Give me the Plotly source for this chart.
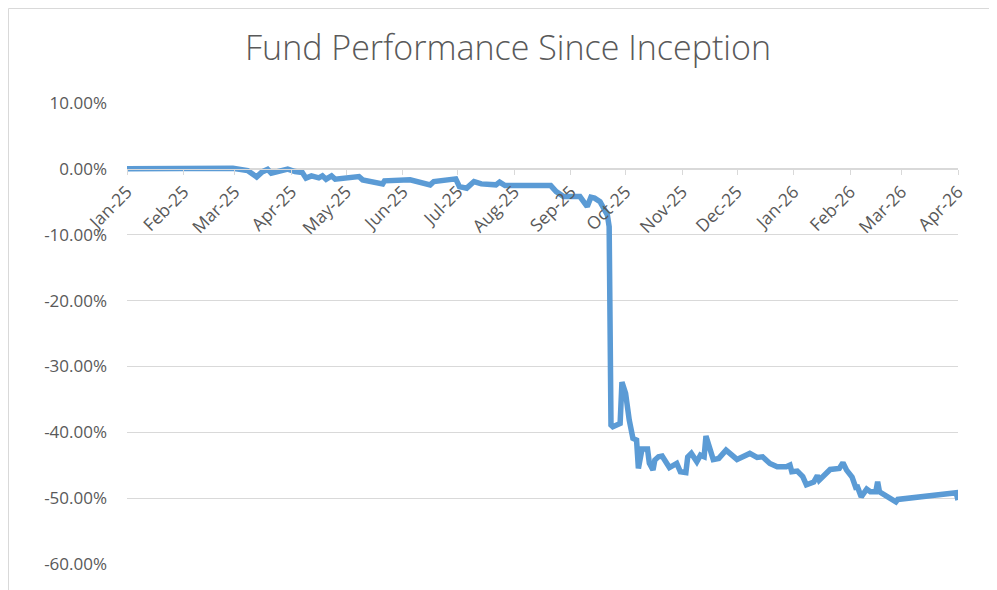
import plotly.graph_objects as go

dates = [
    "2025-01-01", "2025-01-19", "2025-02-10", "2025-02-19", "2025-02-28",
    "2025-03-08", "2025-03-13", "2025-03-16", "2025-03-19", "2025-03-21",
    "2025-03-25", "2025-03-30", "2025-04-03", "2025-04-07", "2025-04-09",
    "2025-04-12", "2025-04-16", "2025-04-18", "2025-04-20", "2025-04-23",
    "2025-04-25", "2025-05-08", "2025-05-10", "2025-05-21", "2025-05-22",
    "2025-06-05", "2025-06-16", "2025-06-18", "2025-06-30", "2025-07-02",
    "2025-07-06", "2025-07-10", "2025-07-14", "2025-07-22", "2025-07-24",
    "2025-07-27", "2025-08-21", "2025-08-24", "2025-08-28", "2025-09-01",
    "2025-09-02", "2025-09-06", "2025-09-08", "2025-09-10", "2025-09-12",
    "2025-09-14", "2025-09-17", "2025-09-21", "2025-09-22", "2025-09-23",
    "2025-09-24", "2025-09-28", "2025-09-29", "2025-10-01", "2025-10-03",
    "2025-10-05", "2025-10-07", "2025-10-08", "2025-10-10", "2025-10-13",
    "2025-10-14", "2025-10-16", "2025-10-17", "2025-10-19", "2025-10-21",
    "2025-10-23", "2025-10-25", "2025-10-29", "2025-10-31", "2025-11-03",
    "2025-11-04", "2025-11-06", "2025-11-09", "2025-11-11", "2025-11-13",
    "2025-11-14", "2025-11-16", "2025-11-18", "2025-11-21", "2025-11-25",
    "2025-12-01", "2025-12-05", "2025-12-08", "2025-12-12", "2025-12-15",
    "2025-12-19", "2025-12-23", "2025-12-28", "2025-12-30", "2025-12-31",
    "2026-01-03", "2026-01-06", "2026-01-08", "2026-01-12", "2026-01-14",
    "2026-01-15", "2026-01-21", "2026-01-26", "2026-01-28", "2026-01-30",
    "2026-02-02", "2026-02-04", "2026-02-05", "2026-02-07", "2026-02-10",
    "2026-02-12", "2026-02-15", "2026-02-16", "2026-02-17", "2026-02-26",
    "2026-02-27", "2026-03-31", "2026-04-01",
]

performance_pct = [
    0.00, 0.08, 0.15, 0.20, 0.08,
    -0.26, -1.22, -0.46, -0.08, -0.65,
    -0.41, -0.05, -0.41, -0.56, -1.41,
    -1.06, -1.37, -1.06, -1.57, -1.06,
    -1.57, -1.17, -1.67, -2.28, -1.82,
    -1.67, -2.43, -1.93, -1.52, -2.69,
    -2.93, -1.93, -2.28, -2.43, -2.02,
    -2.54, -2.54, -3.45, -4.21, -4.30,
    -4.21, -4.21, -4.97, -5.73, -4.30,
    -4.45, -4.97, -6.99, -8.77, -38.90,
    -39.16, -38.65, -32.37, -34.09, -38.15,
    -40.93, -41.19, -45.49, -42.55, -42.55,
    -44.68, -45.74, -44.22, -43.72, -43.62,
    -44.53, -45.36, -44.73, -46.00, -46.12,
    -43.77, -43.21, -44.48, -43.47, -43.72,
    -40.58, -42.10, -44.15, -43.97, -42.71,
    -44.12, -43.62, -43.21, -43.81, -43.72,
    -44.73, -45.24, -45.24, -44.98, -46.00,
    -45.90, -46.73, -47.98, -47.57, -46.58,
    -47.26, -45.64, -45.49, -44.60, -45.74,
    -46.81, -48.37, -48.33, -49.80, -48.63,
    -49.04, -49.04, -47.52, -49.04, -50.56,
    -50.20, -49.19, -50.30,
]

y_tick_values = [10, 0, -10, -20, -30, -40, -50, -60]
y_tick_labels = ["10.00%", "0.00%", "-10.00%", "-20.00%", "-30.00%",
                 "-40.00%", "-50.00%", "-60.00%"]

title_text = "Fund Performance Since Inception"

FONT = "Open Sans"
GRAY_TEXT = "#595959"
GRID = "#d9d9d9"

# page is offset by the browser's 8px body margin
L, T, PW, PH = 119, 95, 831, 461

fig = go.Figure()
fig.add_trace(go.Scatter(
    x=dates, y=performance_pct, mode="lines",
    line=dict(color="#5B9BD5", width=5.5, shape="linear"),
    showlegend=False, hoverinfo="skip",
))

y_min, y_max = -60, 10

fig.update_layout(
    width=997, height=590,
    margin=dict(l=L, r=997 - L - PW, t=T, b=590 - T - PH, pad=0),
    paper_bgcolor="white", plot_bgcolor="white",
    title=dict(text=title_text, x=500 / 997, xanchor="center",
               y=1 - 40 / 590, yanchor="middle", yref="container",
               font=dict(family=FONT, size=34, color=GRAY_TEXT, weight=300)),
    xaxis=dict(
        type="date", range=["2025-01-01", "2026-04-01"],
        tick0="2025-01-01", dtick="M1", tickformat="%b-%y",
        tickangle=-45, ticks="outside", ticklen=5, tickcolor=GRID,
        showgrid=False, showline=True, linecolor=GRID, linewidth=1,
        zeroline=False, anchor="free", position=(0 - y_min) / (y_max - y_min),
        tickfont=dict(family=FONT, size=17.5, color=GRAY_TEXT),
    ),
    yaxis=dict(
        range=[y_min, y_max], tickvals=y_tick_values, ticktext=y_tick_labels,
        showgrid=True, gridcolor=GRID, gridwidth=1, zeroline=False,
        showline=False, ticks="", ticklabelstandoff=19,
        tickfont=dict(family=FONT, size=17, color=GRAY_TEXT),
    ),
)

# chart-area border
fig.add_shape(type="rect", xref="paper", yref="paper",
              x0=(0.5 - L) / PW, x1=(985 - L) / PW,
              y0=(T + PH - 600) / PH, y1=(T + PH - 0.5) / PH,
              line=dict(color=GRID, width=1), fillcolor="rgba(0,0,0,0)",
              layer="below")

fig.write_html("out.html")
